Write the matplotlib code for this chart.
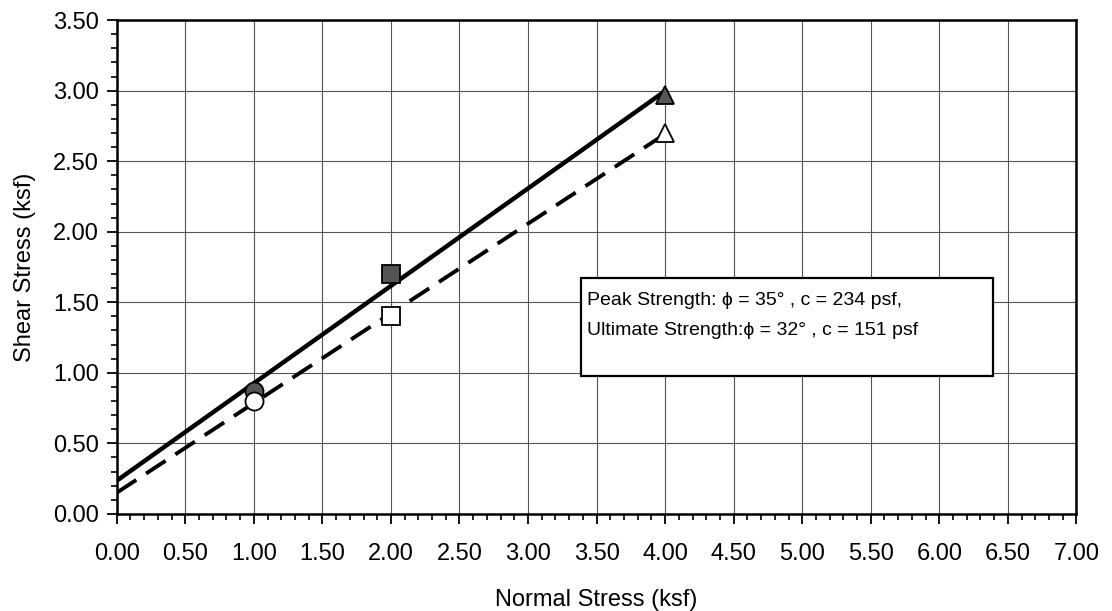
import numpy as np
import matplotlib
matplotlib.use("Agg")
import matplotlib.pyplot as plt
from matplotlib.patches import Rectangle
from matplotlib.ticker import MultipleLocator, FormatStrFormatter

plt.rcParams['font.family'] = ['Liberation Sans', 'DejaVu Sans']

# Data
normal_stress = [1.00, 2.00, 4.00]
peak_shear = [0.87, 1.70, 2.97]
ult_shear = [0.80, 1.40, 2.70]
peak_markers = ['o', 's', '^']
ult_markers = ['o', 's', '^']
note_lines = ['Peak Strength: \u03d5 = 35\u00b0 , c = 234 psf,',
              'Ultimate Strength:\u03d5 = 32\u00b0 , c = 151 psf']

fig = plt.figure(figsize=(11.12, 6.11), dpi=100)
ax = fig.add_axes([0.105, 0.159, 0.863, 0.808])

# Best-fit envelopes drawn from 0 to max normal stress
xs = np.array([0.0, max(normal_stress)])
p_fit = np.polyfit(normal_stress, peak_shear, 1)
u_fit = np.polyfit(normal_stress, ult_shear, 1)
ax.plot(xs, np.polyval(p_fit, xs), color='black', lw=3.2, zorder=3)
ax.plot(xs, np.polyval(u_fit, xs), color='black', lw=2.8, ls=(0, (6, 3)), zorder=3)

for x, y, m in zip(normal_stress, peak_shear, peak_markers):
    ax.plot(x, y, marker=m, ms=13, color='#555555', mec='black', mew=1.3,
            ls='none', zorder=4)
for x, y, m in zip(normal_stress, ult_shear, ult_markers):
    ax.plot(x, y, marker=m, ms=13, color='white', mec='black', mew=1.3,
            ls='none', zorder=4)

ax.set_xlim(0, 7)
ax.set_ylim(0, 3.5)
ax.xaxis.set_major_locator(MultipleLocator(0.5))
ax.xaxis.set_minor_locator(MultipleLocator(0.1))
ax.yaxis.set_major_locator(MultipleLocator(0.5))
ax.yaxis.set_minor_locator(MultipleLocator(0.1))
ax.xaxis.set_major_formatter(FormatStrFormatter('%.2f'))
ax.yaxis.set_major_formatter(FormatStrFormatter('%.2f'))
ax.tick_params(which='major', length=7, width=1.3, labelsize=17, direction='out')
ax.tick_params(which='minor', length=4, width=1.2, direction='out')
ax.tick_params(axis='x', pad=14)
ax.tick_params(axis='y', pad=6)

ax.grid(True, which='major', color='#555555', lw=0.8)
for s in ax.spines.values():
    s.set_linewidth(1.8)

ax.set_xlabel('Normal Stress (ksf)', fontsize=17, labelpad=17)
ax.set_ylabel('Shear Stress (ksf)', fontsize=17, labelpad=12)

# Annotation box
ax.add_patch(Rectangle((0.484, 0.279), 0.429, 0.199, transform=ax.transAxes,
                       fc='white', ec='black', lw=1.6, zorder=5))
for line, yy in zip(note_lines, [0.433, 0.372]):
    ax.text(0.490, yy, line, transform=ax.transAxes, fontsize=14,
            va='center', ha='left', zorder=6)

fig.savefig('out.png', dpi=100)
